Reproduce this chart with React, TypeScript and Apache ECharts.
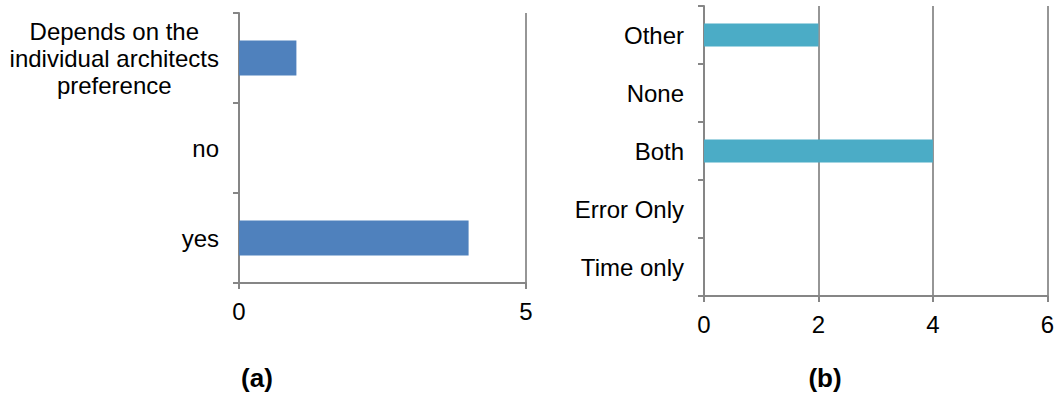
import React, { useEffect, useRef } from "react";
import * as echarts from "echarts";

const catsA = ["yes", "no", "Depends on the individual architects preference"];
const valsA = [4, 0, 1];
const ticksA = { min: 0, max: 5, interval: 5 };

const catsB = ["Time only", "Error Only", "Both", "None", "Other"];
const valsB = [0, 0, 4, 0, 2];
const ticksB = { min: 0, max: 6, interval: 2 };

const panelLabels = ["(a)", "(b)"];

const FONT = "'Liberation Sans', Arial, sans-serif";
const AXIS = "#868686";
const GRID = "#969696";

export default function App() {
  const ref = useRef<HTMLDivElement>(null);
  useEffect(() => {
    if (!ref.current) return;
    const chart = echarts.init(ref.current, null, { renderer: "svg" });
    const labelStyle = { color: "#000", fontSize: 24, fontFamily: FONT };
    const xAxisCommon = (gridIndex: number, t: any, margin: number) => ({
      type: "value",
      gridIndex,
      min: t.min,
      max: t.max,
      interval: t.interval,
      axisLine: { show: true, lineStyle: { color: AXIS, width: 2 } },
      axisTick: { show: true, length: 6, lineStyle: { color: AXIS, width: 2 } },
      splitLine: { show: true, lineStyle: { color: GRID, width: 2 } },
      axisLabel: { ...labelStyle, margin },
    });
    const yAxisCommon = (gridIndex: number, cats: string[], formatter?: any) => ({
      type: "category",
      gridIndex,
      data: cats,
      axisLine: { show: true, lineStyle: { color: AXIS, width: 2 } },
      axisTick: { show: true, length: 6, interval: 0, lineStyle: { color: AXIS, width: 2 } },
      splitLine: { show: false },
      axisLabel: {
        ...labelStyle,
        margin: 20,
        interval: 0,
        lineHeight: 27,
        formatter,
        rich: { c: { align: "center", fontSize: 24, fontFamily: FONT, color: "#000", lineHeight: 27 } },
      },
    });
    const panelText = (text: string, x: number) => ({
      type: "text",
      x,
      y: 378,
      style: {
        text,
        fontSize: 26,
        fontWeight: "bold",
        fontFamily: FONT,
        fill: "#000",
        align: "center",
        verticalAlign: "middle",
      },
    });
    chart.setOption({
      animation: false,
      grid: [
        { left: 239, top: 13, width: 287, height: 270 },
        { left: 704, top: 6, width: 346, height: 290 },
      ],
      xAxis: [xAxisCommon(0, ticksA, 16), xAxisCommon(1, ticksB, 16)],
      yAxis: [
        yAxisCommon(0, catsA, (v: string) => {
          if (v.length > 20) {
            return "{c|Depends on the}\n{c|individual architects}\n{c|preference}";
          }
          return v;
        }),
        yAxisCommon(1, catsB),
      ],
      series: [
        {
          type: "bar",
          xAxisIndex: 0,
          yAxisIndex: 0,
          data: valsA,
          barCategoryGap: "61%",
          itemStyle: { color: "#4F81BD" },
        },
        {
          type: "bar",
          xAxisIndex: 1,
          yAxisIndex: 1,
          data: valsB,
          barCategoryGap: "60%",
          itemStyle: { color: "#4BACC6" },
        },
      ],
      graphic: [panelText(panelLabels[0], 257), panelText(panelLabels[1], 825)],
    });
    return () => chart.dispose();
  }, []);
  return (
    <div
      ref={ref}
      style={{ position: "fixed", left: 0, top: 0, width: 1057, height: 394, background: "#fff" }}
    />
  );
}
